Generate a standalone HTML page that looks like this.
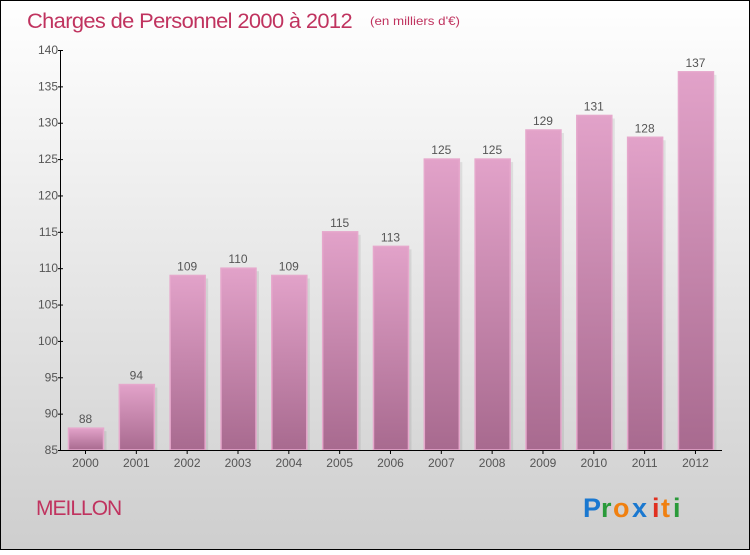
<!DOCTYPE html>
<html><head><meta charset="utf-8"><style>
body{margin:0;width:750px;height:550px;overflow:hidden}
text{font-family:"Liberation Sans",sans-serif}
</style></head><body>
<svg width="750" height="550" xmlns="http://www.w3.org/2000/svg">
<defs>
<linearGradient id="bg" x1="0" y1="0" x2="0" y2="1"><stop offset="0" stop-color="#ffffff"/><stop offset="1" stop-color="#cecece"/></linearGradient>
<linearGradient id="bar" x1="0" y1="0" x2="0" y2="1"><stop offset="0" stop-color="#e2a2c9"/><stop offset="1" stop-color="#a86a8f"/></linearGradient>
</defs>
<rect x="0.5" y="0.5" width="749" height="549" fill="url(#bg)" stroke="#000"/>
<text x="27" y="28" font-size="21" fill="#c0335f" letter-spacing="-0.6" textLength="325" lengthAdjust="spacingAndGlyphs">Charges de Personnel 2000 à 2012</text>
<text x="370" y="25" font-size="12" fill="#c0335f" textLength="90" lengthAdjust="spacingAndGlyphs">(en milliers d'€)</text>
<g id="bars"></g>
<line x1="60.5" y1="50" x2="60.5" y2="450" stroke="#000"/>
<line x1="60" y1="450.5" x2="722" y2="450.5" stroke="#000"/>
<g font-size="12" fill="#555" text-anchor="end" id="yt"></g>
<g font-size="12" fill="#555" text-anchor="middle" id="xt"></g>
<text x="36" y="515" font-size="21" fill="#c0335f" letter-spacing="-1">MEILLON</text>
<g font-size="27" font-weight="bold" font-family="Liberation Sans,sans-serif">
<text x="583" y="517" fill="#1a78d0">P</text><text x="601" y="517" fill="#2a9a3a">r</text><text x="613" y="517" fill="#f08010">o</text><text x="632" y="517" fill="#1a78d0">x</text><text x="652" y="517" fill="#e03020">i</text><text x="661" y="517" fill="#f08010">t</text><text x="673" y="517" fill="#2a9a3a">i</text>
</g>
</svg>
<script>
var v=[88,94,109,110,109,115,113,125,125,129,131,128,137];
var ns="http://www.w3.org/2000/svg",b=document.getElementById('bars'),yt=document.getElementById('yt'),xt=document.getElementById('xt');
function y(u){return 450-(u-85)*400/55;}
function el(t,a,p,tx){var e=document.createElementNS(ns,t);for(var k in a)e.setAttribute(k,a[k]);if(tx!=null)e.textContent=tx;p.appendChild(e);return e;}
for(var i=0;i<13;i++){var c=85.5+i*50.83,t=y(v[i]);
el('rect',{x:c-17+3,y:t+3,width:35,height:450-t-3,fill:'#000',opacity:0.08},b);
el('rect',{x:c-17,y:t,width:35,height:450-t,fill:'url(#bar)',stroke:'#e6a8cc','stroke-width':1.5},b);
el('text',{x:c,y:t-5,'font-size':12,fill:'#555','text-anchor':'middle'},b,v[i]);
el('text',{x:c,y:467},xt,2000+i);
el('line',{x1:c,y1:450,x2:c,y2:454,stroke:'#000'},b);}
for(var u=85;u<=140;u+=5){var yy=y(u);el('text',{x:58,y:yy+4},yt,u);el('line',{x1:58,y1:yy+0.5,x2:63,y2:yy+0.5,stroke:'#000'},b);}
</script>
</body></html>
